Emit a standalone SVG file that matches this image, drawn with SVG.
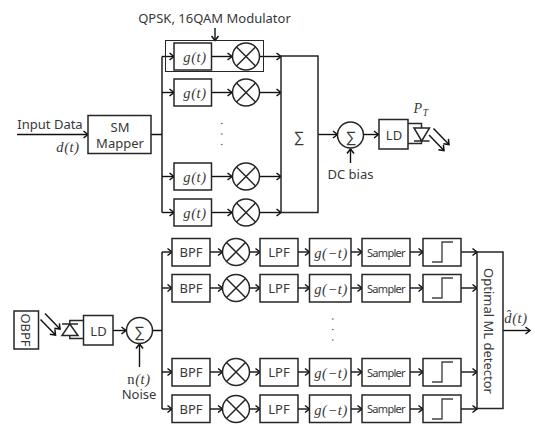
<svg xmlns="http://www.w3.org/2000/svg" xmlns:xlink="http://www.w3.org/1999/xlink" width="535" height="424" viewBox="0 0 535 424">
<style>
.b{fill:#fff;stroke:#262626;stroke-width:1.5}
.n{fill:none;stroke:#262626;stroke-width:1.5}
.c{fill:none;stroke:#111;stroke-width:1.4}
.a{marker-end:url(#ar)}
text{font-family:"Noto Sans","Open Sans",sans-serif;fill:#383838;font-size:13px;text-anchor:middle}
.m{font-family:"Liberation Serif",serif;font-style:italic;font-size:14.5px;letter-spacing:.6px}
.s{font-size:11px;letter-spacing:-.7px}
.e{font-family:"Liberation Sans",sans-serif;font-size:15px}
.d{font-size:11px;letter-spacing:7.6px;text-anchor:start;fill:#555}
</style>
<defs>
<marker id="ar" markerUnits="userSpaceOnUse" markerWidth="10" markerHeight="10" refX="7" refY="4" orient="auto" overflow="visible"><path d="M2.5 .5L7 4L2.5 7.5" fill="none" stroke="#111" stroke-width="1.5"/></marker>
<g id="mix"><circle r="13.5" class="b"/><path d="M-9.5 -9.5L9.5 9.5M-9.5 9.5L9.5 -9.5" class="n"/></g>
<path id="step" d="M-10 10H0V-10H11" fill="none" stroke="#444" stroke-width="1.4"/>
</defs>

<g id="connectors">
<path class="c a" d="M17 134.500H88"/>
<path class="c" d="M151 134.500H162M162 56.500V212.500"/>
<path class="c a" d="M162 56.500H174"/><path class="c a" d="M162 92.500H174"/><path class="c a" d="M162 176.500H174"/><path class="c a" d="M162 212.500H174"/>
<path class="c a" d="M212 56.500H232"/><path class="c a" d="M212 92.500H232"/><path class="c a" d="M212 176.500H232"/><path class="c a" d="M212 212.500H232"/>
<path class="c a" d="M260 56.500H281"/><path class="c a" d="M260 92.500H281"/><path class="c a" d="M260 176.500H281"/><path class="c a" d="M260 212.500H281"/>
<path class="c a" d="M318 134.500H337.500"/>
<path class="c a" d="M350.500 163V149"/>
<path class="c a" d="M364 134.500H378.500"/>
<path class="c a" d="M215 28V40.500"/>
<path class="c a" d="M433.500 128.500L449 144.500"/><path class="c a" d="M429 135L444 150.500"/>
<path class="c a" d="M45 313.500L60 329"/><path class="c a" d="M40.500 319.500L55.500 335"/>
<path class="c a" d="M113 330.500H126"/>
<path class="c a" d="M139.500 367V344"/>
<path class="c" d="M153 330.500H162M162 252V409"/>
<path class="c a" d="M162 252H172"/><path class="c a" d="M162 288H172"/><path class="c a" d="M162 372H172"/><path class="c a" d="M162 409H172"/>
<g id="row-links">
<path class="c a" d="M210 252H222.500"/><path class="c a" d="M249.500 252H260"/><path class="c a" d="M298 252H309.500"/><path class="c a" d="M351 252H362"/><path class="c a" d="M410 252H423"/><path class="c a" d="M461 252H477"/>
<path class="c a" d="M210 288H222.500"/><path class="c a" d="M249.500 288H260"/><path class="c a" d="M298 288H309.500"/><path class="c a" d="M351 288H362"/><path class="c a" d="M410 288H423"/><path class="c a" d="M461 288H477"/>
<path class="c a" d="M210 372H222.500"/><path class="c a" d="M249.500 372H260"/><path class="c a" d="M298 372H309.500"/><path class="c a" d="M351 372H362"/><path class="c a" d="M410 372H423"/><path class="c a" d="M461 372H477"/>
<path class="c a" d="M210 409H222.500"/><path class="c a" d="M249.500 409H260"/><path class="c a" d="M298 409H309.500"/><path class="c a" d="M351 409H362"/><path class="c a" d="M410 409H423"/><path class="c a" d="M461 409H477"/>
</g>
<path class="c a" d="M503 330.500H530"/>
</g>

<g id="modulator-frame"><rect x="165.500" y="40.500" width="98" height="31" class="n" style="stroke-width:1"/></g>
<text x="214.500" y="23">QPSK, 16QAM Modulator</text>
<text x="50" y="129">Input Data</text>
<text x="68" y="152" class="m">d(t)</text>

<g id="mapper"><rect x="88" y="115.500" width="63" height="38" class="b"/><text y="132"><tspan x="120">SM</tspan><tspan x="120" dy="16">Mapper</tspan></text></g>

<g id="g1"><rect x="174" y="43" width="37.500" height="27" class="b"/><text x="195" y="62" class="m">g(t)</text></g>
<g id="g2"><rect x="174" y="79" width="37.500" height="27" class="b"/><text x="195" y="98" class="m">g(t)</text></g>
<g id="g3"><rect x="174" y="163" width="37.500" height="27" class="b"/><text x="195" y="182" class="m">g(t)</text></g>
<g id="g4"><rect x="174" y="199" width="37.500" height="27" class="b"/><text x="195" y="218" class="m">g(t)</text></g>
<g id="mix1"><use xlink:href="#mix" href="#mix" x="246" y="56.500"/></g>
<g id="mix2"><use xlink:href="#mix" href="#mix" x="246" y="92.500"/></g>
<g id="mix3"><use xlink:href="#mix" href="#mix" x="246" y="176.500"/></g>
<g id="mix4"><use xlink:href="#mix" href="#mix" x="246" y="212.500"/></g>
<text class="d" transform="translate(220.500 122) rotate(90)">...</text>

<g id="sum-box"><rect x="281" y="56" width="37" height="156.500" class="b"/><text x="299" y="142" class="e">∑</text></g>
<g id="sum-top"><circle cx="350.500" cy="135" r="13" class="b"/><text x="351" y="142" class="e">∑</text></g>
<text x="350.500" y="179">DC bias</text>
<g id="ld-top"><rect x="379" y="119.500" width="29" height="29.500" class="b"/><text x="394" y="139.500">LD</text></g>
<g id="diode-top"><path class="n" d="M408 123.500H421.500V128M408 143.500H421.500V141M414 141H429.500M414 128H429.500L421.700 141Z"/></g>
<text x="421" y="113" class="m" style="font-size:14px">P<tspan font-size="9.500" dy="3">T</tspan></text>

<g id="obpf"><rect x="14" y="311" width="24.500" height="38" class="b"/><text transform="translate(21 330) rotate(90)">OBPF</text></g>
<g id="diode-bottom"><path class="n" d="M83.500 320.500H69.800V324M83.500 338.500H69.800V335.500M62 324H78M62 335.500H78L69.800 324Z"/></g>
<g id="ld-bottom"><rect x="83.500" y="315.500" width="29.500" height="29.500" class="b"/><text x="98.500" y="335.500">LD</text></g>
<g id="sum-bottom"><circle cx="139.500" cy="330.500" r="13" class="b"/><text x="139.500" y="337" class="e">∑</text></g>
<text y="384"><tspan x="139" class="m"><tspan font-style="normal">n</tspan>(t)</tspan><tspan x="139" dy="15">Noise</tspan></text>

<g id="bpf1"><rect x="172" y="238.500" width="38" height="27.500" class="b"/><text x="191" y="257">BPF</text></g>
<g id="bpf2"><rect x="172" y="274.500" width="38" height="27.500" class="b"/><text x="191" y="293">BPF</text></g>
<g id="bpf3"><rect x="172" y="358.500" width="38" height="27.500" class="b"/><text x="191" y="377">BPF</text></g>
<g id="bpf4"><rect x="172" y="395" width="38" height="27.500" class="b"/><text x="191" y="414">BPF</text></g>
<g id="bmix1"><use xlink:href="#mix" href="#mix" x="236" y="252"/></g>
<g id="bmix2"><use xlink:href="#mix" href="#mix" x="236" y="288"/></g>
<g id="bmix3"><use xlink:href="#mix" href="#mix" x="236" y="372"/></g>
<g id="bmix4"><use xlink:href="#mix" href="#mix" x="236" y="409"/></g>
<g id="lpf1"><rect x="260" y="238.500" width="38" height="27.500" class="b"/><text x="279" y="257">LPF</text></g>
<g id="lpf2"><rect x="260" y="274.500" width="38" height="27.500" class="b"/><text x="279" y="293">LPF</text></g>
<g id="lpf3"><rect x="260" y="358.500" width="38" height="27.500" class="b"/><text x="279" y="377">LPF</text></g>
<g id="lpf4"><rect x="260" y="395" width="38" height="27.500" class="b"/><text x="279" y="414">LPF</text></g>
<g id="gm1"><rect x="309.500" y="238.500" width="41.500" height="27.500" class="b"/><text x="331" y="258" class="m">g(−t)</text></g>
<g id="gm2"><rect x="309.500" y="274.500" width="41.500" height="27.500" class="b"/><text x="331" y="294" class="m">g(−t)</text></g>
<g id="gm3"><rect x="309.500" y="358.500" width="41.500" height="27.500" class="b"/><text x="331" y="378" class="m">g(−t)</text></g>
<g id="gm4"><rect x="309.500" y="395" width="41.500" height="27.500" class="b"/><text x="331" y="415" class="m">g(−t)</text></g>
<g id="sam1"><rect x="362" y="238.500" width="48" height="27.500" class="b"/><text x="386" y="256.500" class="s">Sampler</text></g>
<g id="sam2"><rect x="362" y="274.500" width="48" height="27.500" class="b"/><text x="386" y="292.500" class="s">Sampler</text></g>
<g id="sam3"><rect x="362" y="358.500" width="48" height="27.500" class="b"/><text x="386" y="376.500" class="s">Sampler</text></g>
<g id="sam4"><rect x="362" y="395" width="48" height="27.500" class="b"/><text x="386" y="413" class="s">Sampler</text></g>
<g id="st1"><rect x="423" y="238.500" width="38" height="27.500" class="b"/><use xlink:href="#step" href="#step" x="442" y="252"/></g>
<g id="st2"><rect x="423" y="274.500" width="38" height="27.500" class="b"/><use xlink:href="#step" href="#step" x="442" y="288"/></g>
<g id="st3"><rect x="423" y="358.500" width="38" height="27.500" class="b"/><use xlink:href="#step" href="#step" x="442" y="372"/></g>
<g id="st4"><rect x="423" y="395" width="38" height="27.500" class="b"/><use xlink:href="#step" href="#step" x="442" y="409"/></g>
<text class="d" transform="translate(331.500 317.500) rotate(90)">...</text>
<g id="detector"><rect x="477" y="252" width="26" height="156.500" class="b"/><text transform="translate(484 331) rotate(90)">Optimal ML detector</text></g>
<text x="516" y="323" class="m">d̂(t)</text>
</svg>
